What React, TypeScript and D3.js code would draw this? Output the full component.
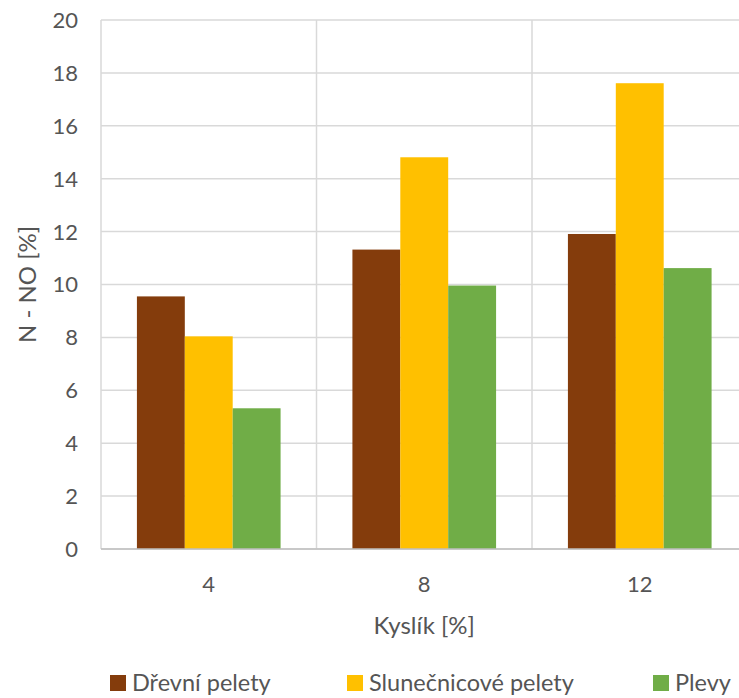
import React from "react";
import * as d3 from "d3";

const categories = ["4", "8", "12"];
const seriesNames = ["Dřevní pelety", "Slunečnicové pelety", "Plevy"];
const drevniPelety = [9.55, 11.32, 11.91];
const slunecnicovePelety = [8.04, 14.81, 17.61];
const plevy = [5.32, 9.96, 10.62];
const yTicks = [0, 2, 4, 6, 8, 10, 12, 14, 16, 18, 20];
const colors = ["#843C0C", "#FFC000", "#70AD47"];

const W = 739;
const H = 698;
const plot = { left: 101, right: 747.5, top: 20, bottom: 549 };
const font = "Lato, 'Open Sans', sans-serif";
const textColor = "#555555";

export default function App() {
  const values = [drevniPelety, slunecnicovePelety, plevy];
  const x = d3.scaleBand<string>().domain(categories).range([plot.left, plot.right]).padding(0);
  const xs = d3
    .scaleBand<string>()
    .domain(seriesNames)
    .range([0, x.bandwidth()])
    .paddingInner(0)
    .paddingOuter(0.75);
  const y = d3.scaleLinear().domain([0, 20]).range([plot.bottom, plot.top]);
  const cx = (plot.left + plot.right) / 2;
  const cy = (plot.top + plot.bottom) / 2;

  const legendItems = [
    { name: seriesNames[0], sx: 110, tx: 132 },
    { name: seriesNames[1], sx: 347, tx: 369 },
    { name: seriesNames[2], sx: 653, tx: 675 },
  ];

  return (
    <svg
      width={W}
      height={H}
      style={{ position: "fixed", left: 0, top: 0, background: "#fff" }}
      fontFamily={font}
    >
      <rect width={W} height={H} fill="#fff" />
      {/* horizontal gridlines */}
      {yTicks.map((t) => (
        <line
          key={"h" + t}
          x1={plot.left}
          x2={plot.right}
          y1={y(t)}
          y2={y(t)}
          stroke="#d9d9d9"
          strokeWidth={1.5}
        />
      ))}
      {/* vertical category gridlines */}
      {[...categories.map((c) => x(c) as number), plot.right].map((v, i) => (
        <line
          key={"v" + i}
          x1={v}
          x2={v}
          y1={plot.top}
          y2={plot.bottom}
          stroke="#d9d9d9"
          strokeWidth={1.5}
        />
      ))}
      {/* bars */}
      {categories.map((c, ci) =>
        seriesNames.map((s, si) => {
          const v = values[si][ci];
          const bx = (x(c) as number) + (xs(s) as number);
          return (
            <rect
              key={c + s}
              x={bx}
              y={y(v)}
              width={xs.bandwidth()}
              height={y(0) - y(v)}
              fill={colors[si]}
            />
          );
        })
      )}
      {/* baseline */}
      <line
        x1={plot.left}
        x2={plot.right}
        y1={y(0)}
        y2={y(0)}
        stroke="#bfbfbf"
        strokeWidth={1.5}
      />
      {/* y tick labels */}
      {yTicks.map((t) => (
        <text
          key={"yl" + t}
          x={78}
          y={y(t)}
          dy="0.36em"
          textAnchor="end"
          fontSize={22}
          fill={textColor}
        >
          {t}
        </text>
      ))}
      {/* x tick labels */}
      {categories.map((c) => (
        <text
          key={"xl" + c}
          x={(x(c) as number) + x.bandwidth() / 2}
          y={592}
          textAnchor="middle"
          fontSize={22}
          fill={textColor}
        >
          {c}
        </text>
      ))}
      {/* axis titles */}
      <text x={cx} y={634} textAnchor="middle" fontSize={24} fill={textColor}>
        Kyslík [%]
      </text>
      <text
        transform={`translate(36,${cy}) rotate(-90)`}
        textAnchor="middle"
        fontSize={24}
        fill={textColor}
      >
        N - NO [%]
      </text>
      {/* legend */}
      {legendItems.map((it, i) => (
        <g key={it.name}>
          <rect x={it.sx} y={675} width={16} height={16} fill={colors[i]} />
          <text x={it.tx} y={691} fontSize={23.5} fill={textColor}>
            {it.name}
          </text>
        </g>
      ))}
    </svg>
  );
}
